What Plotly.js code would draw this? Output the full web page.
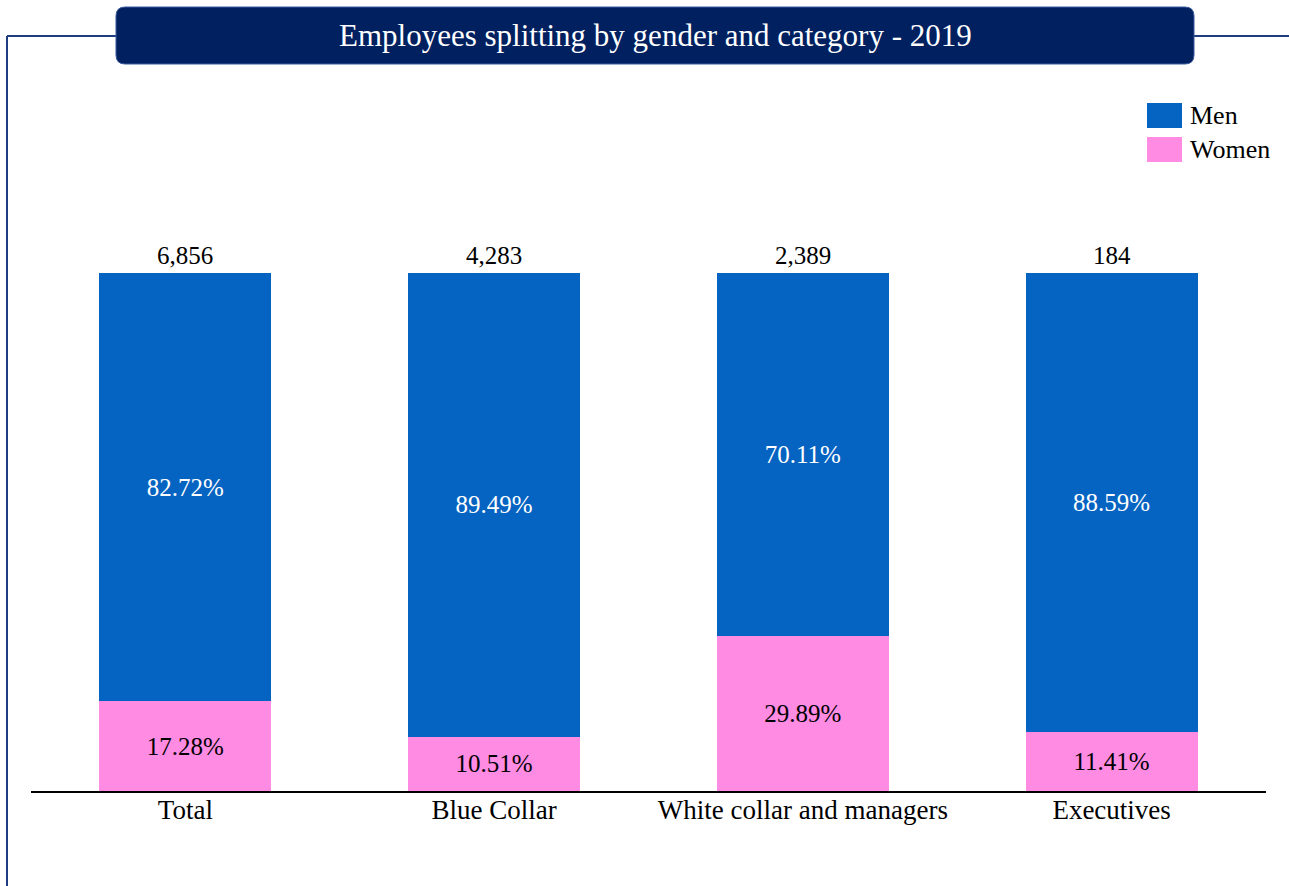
<!DOCTYPE html>
<html>
<head>
<meta charset="utf-8">
<script src="https://cdn.plot.ly/plotly-3.0.1.min.js"></script>
<style>html,body{margin:0;padding:0;background:#fff;}#chart{width:1289px;height:886px;}</style>
</head>
<body>
<div id="chart"></div>
<script>
const categories = ["Total", "Blue Collar", "White collar and managers", "Executives"];
const menPct = [82.72, 89.49, 70.11, 88.59];
const womenPct = [17.28, 10.51, 29.89, 11.41];
const totals = ["6,856", "4,283", "2,389", "184"];
const seriesNames = ["Men", "Women"];
const titleText = "Employees splitting by gender and category - 2019";

const W = 1289, H = 886;
const M = {l: 31, r: 23, t: 273, b: 95};
const PW = W - M.l - M.r, PH = H - M.t - M.b;
const px = x => (x - M.l) / PW;
const py = y => (H - M.b - y) / PH;

const FONT = "Liberation Serif, Palatino Linotype, serif";
const MEN = "#0563C1", WOMEN = "#FF8BE3", NAVY = "#002060", FRAME = "#1F3C80";

const traces = [
  {type: "bar", name: seriesNames[1], x: categories, y: womenPct, marker: {color: WOMEN},
   texttemplate: "%{y:.2f}%", textposition: "inside", insidetextanchor: "middle", textangle: 0,
   textfont: {family: FONT, size: 25, color: "#000"}, showlegend: false, hoverinfo: "none"},
  {type: "bar", name: seriesNames[0], x: categories, y: menPct, marker: {color: MEN},
   texttemplate: "%{y:.2f}%", textposition: "inside", insidetextanchor: "middle", textangle: 0,
   textfont: {family: FONT, size: 25, color: "#fff"}, showlegend: false, hoverinfo: "none"}
];

function roundRect(x0, y0, x1, y1, r) {
  const X = v => px(v), Y = v => py(v);
  return `M ${X(x0 + r)} ${Y(y0)} L ${X(x1 - r)} ${Y(y0)} Q ${X(x1)} ${Y(y0)} ${X(x1)} ${Y(y0 + r)} ` +
    `L ${X(x1)} ${Y(y1 - r)} Q ${X(x1)} ${Y(y1)} ${X(x1 - r)} ${Y(y1)} L ${X(x0 + r)} ${Y(y1)} ` +
    `Q ${X(x0)} ${Y(y1)} ${X(x0)} ${Y(y1 - r)} L ${X(x0)} ${Y(y0 + r)} Q ${X(x0)} ${Y(y0)} ${X(x0 + r)} ${Y(y0)} Z`;
}

const shapes = [
  {type: "line", xref: "paper", yref: "paper", x0: px(7), x1: px(7), y0: py(36), y1: py(886), line: {color: FRAME, width: 2}},
  {type: "line", xref: "paper", yref: "paper", x0: px(7), x1: px(120), y0: py(36), y1: py(36), line: {color: FRAME, width: 2}},
  {type: "line", xref: "paper", yref: "paper", x0: px(1190), x1: px(1289), y0: py(36), y1: py(36), line: {color: FRAME, width: 2}},
  {type: "path", xref: "paper", yref: "paper", path: roundRect(116, 7, 1194, 64, 9), fillcolor: NAVY, line: {color: "#3A5A9C", width: 1}},
  {type: "rect", xref: "paper", yref: "paper", x0: px(1147), x1: px(1182), y0: py(103), y1: py(128), fillcolor: MEN, line: {width: 0}},
  {type: "rect", xref: "paper", yref: "paper", x0: px(1147), x1: px(1182), y0: py(137), y1: py(162), fillcolor: WOMEN, line: {width: 0}}
];

const annotations = [
  {xref: "paper", yref: "paper", x: px(655), y: py(36), text: titleText, showarrow: false,
   xanchor: "center", yanchor: "middle", font: {family: FONT, size: 31, color: "#fff"}},
  {xref: "paper", yref: "paper", x: px(1188), y: py(115.5), text: seriesNames[0], showarrow: false,
   xanchor: "left", yanchor: "middle", font: {family: FONT, size: 26, color: "#000"}},
  {xref: "paper", yref: "paper", x: px(1188), y: py(149.5), text: seriesNames[1], showarrow: false,
   xanchor: "left", yanchor: "middle", font: {family: FONT, size: 26, color: "#000"}}
];
categories.forEach((c, i) => {
  annotations.push({x: c, y: menPct[i] + womenPct[i], xref: "x", yref: "y", text: totals[i], showarrow: false,
    xanchor: "center", yanchor: "bottom", yshift: 2, font: {family: FONT, size: 25, color: "#000"}});
});

const layout = {
  width: W, height: H,
  margin: M,
  paper_bgcolor: "#fff", plot_bgcolor: "#fff",
  barmode: "stack", bargap: 0.443,
  showlegend: false,
  font: {family: FONT, color: "#000"},
  xaxis: {type: "category", range: [-0.5, 3.5], showline: true, linecolor: "#000", linewidth: 2,
    showgrid: false, zeroline: false, ticks: "", ticklabelstandoff: -6,
    tickfont: {family: FONT, size: 27, color: "#000"}, fixedrange: true},
  yaxis: {range: [0, 100], visible: false, showgrid: false, zeroline: false, fixedrange: true},
  shapes: shapes,
  annotations: annotations
};

Plotly.newPlot("chart", traces, layout, {displayModeBar: false, staticPlot: true});
</script>
</body>
</html>
